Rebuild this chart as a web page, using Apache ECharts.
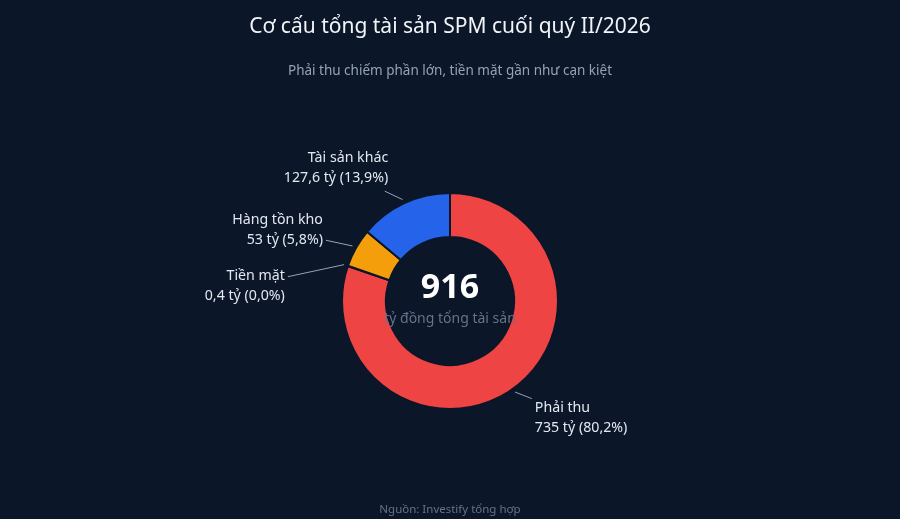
<!DOCTYPE html>
<html>
<head>
<meta charset="utf-8">
<script src="https://cdn.jsdelivr.net/npm/echarts@6/dist/echarts.min.js"></script>
<style>
html,body{margin:0;padding:0;background:#0b1628;}
#chart{width:900px;height:519px;}
</style>
</head>
<body>
<div id="chart"></div>
<script>
const categories = ['Phải thu', 'Tiền mặt', 'Hàng tồn kho', 'Tài sản khác'];
const values = [735, 0.4, 53, 127.6];
const colors = ['#ef4444', '#ef4444', '#f59e0b', '#2563eb'];
const totalLabel = '916';
const totalCaption = 'tỷ đồng tổng tài sản';

// label offsets from each slice's outer mid-point (layout only)
const labelOx = [22, -63, -33, -16];
const labelOy = [29, 20, -18, -35];

const total = values.reduce((a, b) => a + b, 0);
const fmt = v => String(v).replace('.', ',');
const pct = v => (v / total * 100).toFixed(1).replace('.', ',');

const CX = 450, CY = 301, R0 = 64, R1 = 108;

const chart = echarts.init(document.getElementById('chart'));
chart.setOption({
  backgroundColor: '#0b1628',
  textStyle: { fontFamily: 'Noto Sans' },
  title: [
    { text: 'Cơ cấu tổng tài sản SPM cuối quý II/2026', left: 'center', top: 12,
      textStyle: { color: '#f1f5f9', fontSize: 21, fontWeight: 'normal', fontFamily: 'Noto Sans' } },
    { text: 'Phải thu chiếm phần lớn, tiền mặt gần như cạn kiệt', left: 'center', top: 59,
      textStyle: { color: '#94a3b8', fontSize: 13.5, fontWeight: 'normal', fontFamily: 'Noto Sans' } },
    { text: 'Nguồn: Investify tổng hợp', left: 'center', top: 499,
      textStyle: { color: '#64748b', fontSize: 11.5, fontWeight: 'normal', fontFamily: 'Noto Sans' } },
    { text: totalLabel, left: 'center', top: 266,
      textStyle: { color: '#ffffff', fontSize: 34, fontWeight: 'bold', fontFamily: 'Noto Sans' } },
    { text: totalCaption, left: 'center', top: 307,
      textStyle: { color: '#64748b', fontSize: 14, fontWeight: 'normal', fontFamily: 'Noto Sans' } }
  ],
  series: [{
    type: 'pie',
    center: [CX, CY],
    radius: [R0, R1],
    startAngle: 90,
    clockwise: true,
    avoidLabelOverlap: true,
    itemStyle: { borderColor: '#0b1628', borderWidth: 2 },
    label: {
      color: '#e2e8f0', fontSize: 14.2, lineHeight: 20, fontFamily: 'Noto Sans',
      formatter: p => p.name + '\n' + fmt(p.value) + ' tỷ (' + pct(p.value) + '%)'
    },
    labelLine: { length: 14, length2: 16, lineStyle: { color: '#94a3b8', width: 1 } },
    labelLayout: function (params) {
      const i = params.dataIndex;
      const r = params.labelRect;
      const right = params.align === 'right';
      const pts = params.labelLinePoints;
      let ax, ay;
      if (pts && pts.length) { ax = pts[0][0]; ay = pts[0][1]; }
      else { ax = right ? r.x + r.width : r.x; ay = r.y + r.height / 2; }
      const X = ax + labelOx[i];
      const Y = ay + labelOy[i];
      const w = r.width, h = r.height;
      const rx = right ? X - w : X;
      const ry = Y - h / 2;
      // line start: slightly outside the ring along the slice's mid direction
      const dx = ax - CX, dy = ay - CY;
      const d = Math.sqrt(dx * dx + dy * dy) || 1;
      const sx = CX + dx / d * (R1 + 4), sy = CY + dy / d * (R1 + 4);
      // aim at label centre, stop at the (padded) label box
      const gap = 3;
      const lx = rx + w / 2, ly = ry + h / 2;
      const vx = lx - sx, vy = ly - sy;
      let tx = 0, ty = 0;
      if (sx < rx - gap) tx = (rx - gap - sx) / vx;
      else if (sx > rx + w + gap) tx = (rx + w + gap - sx) / vx;
      if (sy < ry - gap) ty = (ry - gap - sy) / vy;
      else if (sy > ry + h + gap) ty = (ry + h + gap - sy) / vy;
      const t = Math.max(tx, ty);
      const ex = sx + vx * t, ey = sy + vy * t;
      return { x: X, y: Y, labelLinePoints: [[sx, sy], [ex, ey]] };
    },
    data: categories.map((c, i) => ({ name: c, value: values[i], itemStyle: { color: colors[i] } }))
  }]
});
</script>
</body>
</html>
